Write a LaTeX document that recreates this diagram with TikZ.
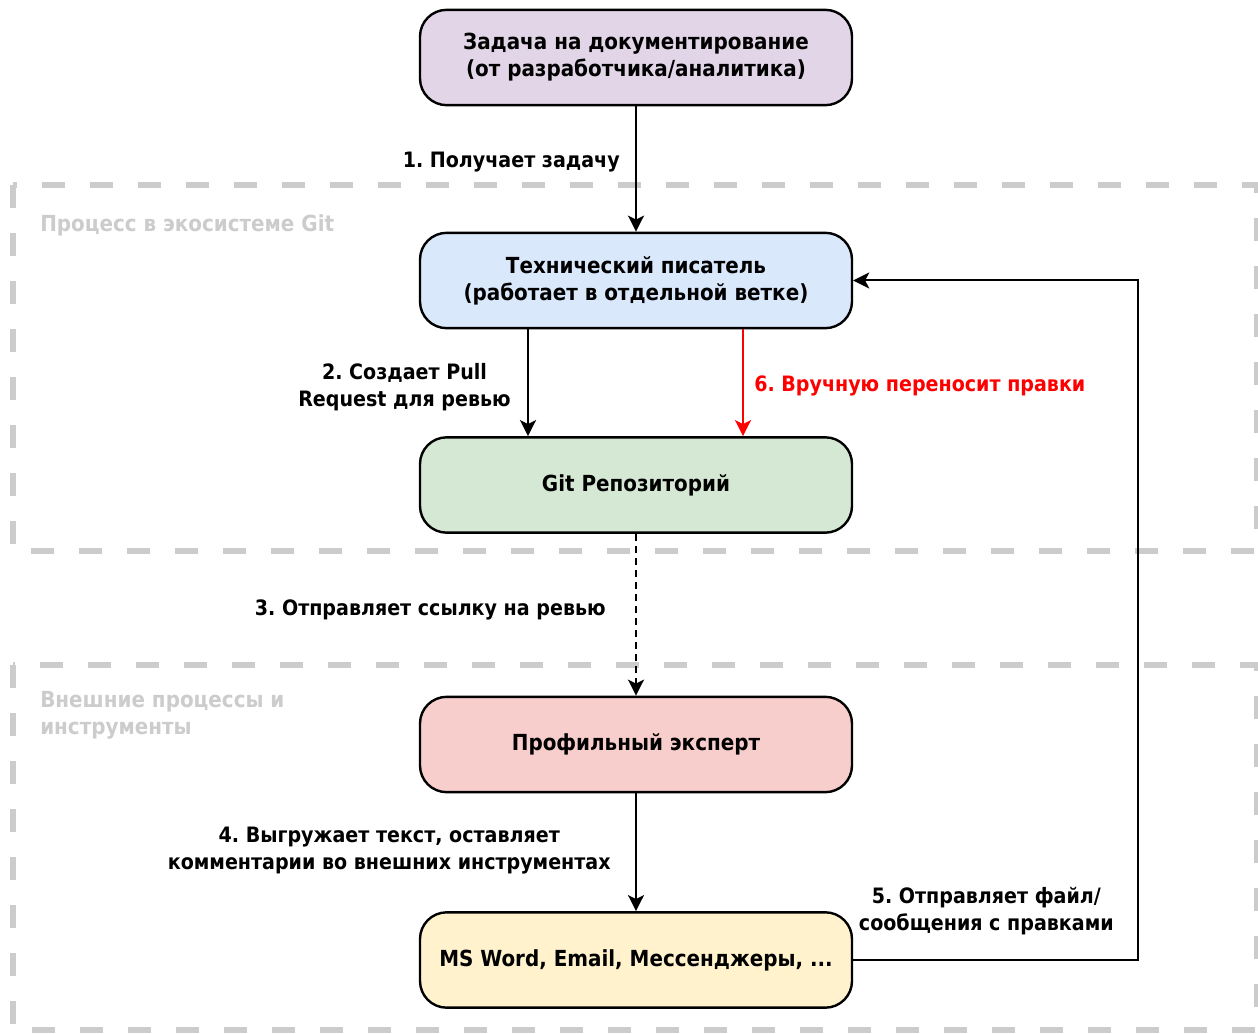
\documentclass[tikz,border=0pt]{standalone}
\usepackage{fontspec}
\setmainfont{DejaVu Sans Condensed}
\definecolor{taskpurple}{HTML}{E1D5E7}
\definecolor{writerblue}{HTML}{DAE8FC}
\definecolor{repogreen}{HTML}{D5E8D4}
\definecolor{expertred}{HTML}{F8CECC}
\definecolor{toolyellow}{HTML}{FFF2CC}
\definecolor{groupgray}{HTML}{CCCCCC}
\definecolor{fixred}{HTML}{FF0000}
\usetikzlibrary{arrows.meta, positioning}
\frenchspacing

\tikzset{
  flowbox/.style={draw=black, line width=1.8pt, rounded corners=20pt, minimum width=324pt, minimum height=71.5pt, align=center, inner sep=0pt, font=\fontsize{16.6}{20.25}\selectfont\bfseries},
  flowarrow/.style={draw=black, line width=1.5pt, -{Stealth[length=12pt, width=12pt, inset=3pt]}},
  steplabel/.style={align=center, inner sep=0pt},
  groupframe/.style={draw=groupgray, line width=4.5pt, dash pattern=on 17pt off 19pt},
  grouplabel/.style={text=groupgray, anchor=north west, align=left, inner sep=0pt, font=\fontsize{16.6}{20.25}\selectfont\bfseries}
}

\begin{document}
\begin{tikzpicture}[x=0.75pt, y=-0.75pt, font=\fontsize{15.9}{20.25}\selectfont\bfseries]
  \useasboundingbox (0,0) rectangle (1258,1034);

  % Groups
  \draw[groupframe] (13,185) rectangle (1257,551);
  \node[grouplabel] (gitlabel) at (40,214) {Процесс в экосистеме Git};
  \draw[groupframe] (13,665) rectangle (1257,1030);
  \node[grouplabel] (extlabel) at (40,691) {Внешние процессы и\\инструменты};

  % Boxes
  \node[flowbox, fill=taskpurple] (task) at (636,57.5) {Задача на документирование\\(от разработчика/аналитика)};
  \node[flowbox, fill=writerblue] (writer) at (636,280.5) {Технический писатель\\(работает в отдельной ветке)};
  \node[flowbox, fill=repogreen] (repo) at (636,485) {Git Репозиторий};
  \node[flowbox, fill=expertred] (expert) at (636,744.5) {Профильный эксперт};
  \node[flowbox, fill=toolyellow] (tools) at (636,960) {MS Word, Email, Мессенджеры, ...};

  % Connectors
  \draw[flowarrow] (task) -- (writer);
  \node[steplabel, anchor=east] (getlabel) at (620,162) {1. Получает задачу};

  \draw[flowarrow] (writer.south -| 528,0) -- (repo.north -| 528,0);
  \node[steplabel, anchor=east] (prlabel) at (511,387) {2. Создает Pull\\Request для ревью};

  \draw[flowarrow, draw=fixred, {-Stealth[length=12pt, width=12pt, inset=3pt, fill=fixred]}] (writer.south -| 743,0) -- (repo.north -| 743,0);
  \node[steplabel, anchor=west, text=fixred] (manuallabel) at (754,386) {6. Вручную переносит правки};

  \draw[flowarrow, dash pattern=on 5pt off 4pt] (repo) -- (expert);
  \node[steplabel, anchor=east] (linklabel) at (606,610) {3. Отправляет ссылку на ревью};

  \draw[flowarrow] (expert) -- (tools);
  \node[steplabel, anchor=east] (exportlabel) at (611,850.5) {4. Выгружает текст, оставляет\\комментарии во внешних инструментах};

  \coordinate (backturn) at (1138,960);
  \draw[flowarrow] (tools.east) -- (backturn) |- (writer.east);
  \node[steplabel, anchor=east] (sendlabel) at (1114,911.5) {5. Отправляет файл/\\сообщения с правками};
\end{tikzpicture}
\end{document}
